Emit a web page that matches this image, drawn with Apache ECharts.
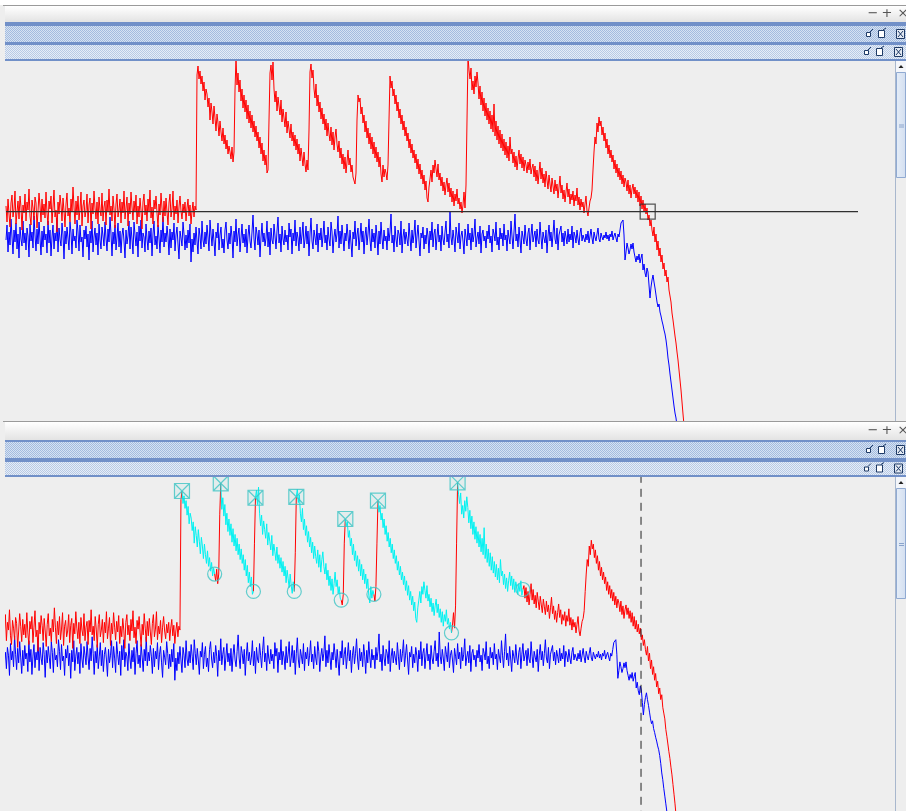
<!DOCTYPE html>
<html><head><meta charset="utf-8">
<script src="https://cdn.jsdelivr.net/npm/echarts@6/dist/echarts.min.js"></script>
<style>html,body{margin:0;padding:0;background:#eeeeee;}#c{width:906px;height:811px;}</style>
</head><body><div id="c"></div>
<script>
// ---- data: one sample per time unit ----
const sampleStep = 1;
const redSignal = [
214,198,221,206,193,217,225,203,211,229,196,208,219,201,224,213,190,215,207,226,
199,218,210,231,204,195,220,212,200,223,217,192,209,227,214,198,221,205,216,202,
228,207,195,219,211,224,197,213,230,203,210,188,218,206,225,215,199,222,209,193,
216,227,204,212,198,221,208,233,213,196,219,205,224,200,211,228,194,214,220,203,
209,226,197,215,222,191,217,206,229,212,201,218,196,223,210,204,227,199,213,219,
195,220,208,231,205,214,199,224,211,192,216,226,203,210,221,197,218,207,229,201,
212,223,194,217,206,228,213,200,219,208,225,196,214,203,222,210,191,218,226,205,
215,199,221,209,230,202,213,196,220,211,224,207,193,216,205,227,212,198,219,204,
222,208,195,217,226,203,211,229,200,214,206,220,197,213,224,209,201,216,207,218,
199,212,221,204,215,196,209,218,203,214,210,
345,
354,341,349,336,344,329,338,320,331,326,313,322,300,317,308,296,314,302,289,306,
297,284,299,288,279,292,276,285,271,280,266,274,268,
261,273,258,268,330,
362,335,347,328,340,319,331,312,325,308,320,301,315,297,309,292,305,288,299,283,
294,279,288,272,283,266,277,259,270,255,265,247,250,
300,
347,355,340,358,331,318,329,309,323,314,305,320,298,311,302,293,308,287,299,291,
282,296,279,288,274,285,270,281,266,276,259,272,263,254,268,256,248,260,250,
290,
348,356,342,350,331,322,336,314,325,308,318,301,312,296,306,290,301,284,297,286,
279,293,275,288,270,283,291,276,268,279,262,272,256,266,251,263,247,258,270,255,
262,248,255,243,241,
236,247,300,
325,318,322,306,313,297,305,288,299,282,292,276,287,271,283,266,278,262,273,258,
268,253,263,246,238,255,243,251,247,
240,255,300,
344,332,339,324,331,316,325,309,318,302,311,296,305,290,299,284,293,279,287,272,
281,267,276,262,270,257,266,251,261,246,256,241,250,236,245,230,239,222,218,233,
241,250,238,255,247,260,251,243,256,240,247,234,243,229,238,225,235,242,228,237,
223,232,218,229,214,226,219,231,216,222,211,218,207,
215,228,212,235,300,
363,350,341,352,330,339,326,344,333,348,337,321,334,315,328,309,322,304,317,300,
312,296,309,291,305,288,316,284,299,280,294,276,290,272,286,269,281,265,278,262,
274,259,283,266,271,257,268,253,264,250,261,270,256,266,252,263,249,260,255,247,
258,250,261,246,252,
256,243,254,239,250,236,247,258,241,252,237,246,233,249,240,231,245,236,228,242,
234,226,240,229,236,222,233,244,227,235,221,230,218,228,237,223,231,216,226,220,
229,214,225,219,232,215,223,210,221,213,218,207,216,224,209,204,212,219,222,230,
250,268,283,276,297,288,303,294,299,285,293,279,287,272,281,266,275,262,270,258,
265,251,260,247,256,243,252,240,249,236,245,233,242,238,229,240,226,235,222,231,
236,226,233,222,230,218,228,214,224,211,220,208,216,206,212,200,205,194,200,190,
184,193,178,186,170,179,164,172,158,165,151,157,144,150,138,143,130,124,118,107,
100,92,84,77,68,60,50,40,30,18,6,-5,-18,-30
];
const blueSignal = [
180,195,168,188,175,201,183,166,190,178,197,171,186,162,193,181,174,199,177,187,
170,192,184,163,196,179,188,172,204,185,169,191,176,198,182,165,189,173,194,180,
186,167,199,177,190,164,183,195,171,187,179,202,168,192,181,174,197,185,161,189,
176,193,182,170,198,187,166,191,179,184,172,200,188,169,195,178,183,163,190,181,
194,173,186,160,189,177,199,168,183,192,175,187,165,196,180,171,193,184,174,198,
182,169,191,178,203,186,164,188,176,195,170,183,197,173,189,167,185,192,179,162,
190,176,184,199,171,193,181,166,198,185,174,188,163,194,179,200,172,187,183,168,
196,181,170,189,177,192,164,186,199,175,184,171,195,182,167,190,178,203,173,187,
178,194,183,165,191,172,188,180,197,169,185,193,176,161,189,182,174,198,186,170,
185,172,190,177,196,158,181,168,187,175,193,179,166,192,184,171,199,180,173,188,
176,195,183,169,200,186,174,191,179,164,188,182,197,170,185,193,172,181,167,190,
198,180,171,187,176,194,183,162,189,178,201,174,185,192,168,182,196,177,186,173,
191,167,184,195,179,172,188,205,181,170,193,186,175,190,163,183,197,178,187,174,
182,199,173,188,165,192,180,176,196,184,171,189,203,177,186,168,194,181,175,190,
178,185,170,197,183,191,166,187,179,200,174,188,182,169,193,176,185,198,172,181,
194,176,189,164,186,202,179,171,190,183,175,196,168,187,180,192,173,184,199,177,
185,170,193,181,174,198,188,167,183,191,178,186,204,172,189,176,195,182,169,187,
179,196,184,171,190,177,163,188,181,199,174,185,192,170,183,197,178,189,166,184,
193,175,186,201,180,169,191,178,187,172,195,183,165,189,176,198,182,171,190,179,
184,170,192,179,188,206,177,185,168,194,181,173,190,186,175,199,167,183,191,176,
188,181,174,197,183,169,190,177,186,200,172,184,195,179,164,187,182,193,171,185,
176,192,184,167,189,180,198,173,186,191,170,183,196,178,185,169,194,181,175,188,
199,178,186,172,208,183,175,190,181,168,193,185,177,197,171,184,189,179,166,191,
183,174,196,180,187,170,192,178,185,201,173,182,188,176,194,167,186,190,179,184,
172,189,181,195,177,184,168,191,186,179,198,175,183,170,192,181,187,174,196,180,
185,169,190,182,176,199,184,171,188,206,179,186,173,193,180,167,189,183,176,195,
181,174,187,192,170,185,196,178,184,189,173,191,180,176,198,183,171,188,182,177,
190,167,184,195,179,188,173,186,200,181,176,192,170,185,183,194,178,187,174,189,
183,176,191,178,186,180,194,172,188,184,177,190,181,175,187,192,179,185,183,178,
186,180,189,177,184,191,182,176,188,183,179,186,192,181,178,187,183,180,185,182,
188,181,185,179,186,183,189,180,184,187,182,178,186,183,190,197,
196,200,185,160,168,177,172,166,170,176,171,177,168,163,158,164,160,166,157,162,
166,150,156,147,143,152,148,135,122,133,140,145,138,132,125,118,113,116,108,104,
99,95,90,86,80,72,62,55,46,38,30,22,14,7,2,-6,-15,-30
];
// highlighted decay segments: [start sample, end sample]
const selectedSegments = [[192,224],[230,262],[264,302],[304,348],[352,380],[384,456],[462,526]];
const thresholdLevel = 208.3;
const thresholdEnd = 852;
const cursorTime = 641.7;

// ---- build ----
const toPts = arr => arr.map((v, i) => [i * sampleStep, v]);
const redPts = toPts(redSignal);
const bluePts = toPts(blueSignal);
const insideSeg = i => selectedSegments.some(([a, b]) => i > a && i < b);
const redLowerPts = redPts.map((p, i) => insideSeg(i) ? [p[0], '-'] : p);

function makePattern(bg, dot) {
  const c = document.createElement('canvas'); c.width = 2; c.height = 2;
  const g = c.getContext('2d');
  g.fillStyle = bg; g.fillRect(0, 0, 2, 2);
  g.fillStyle = dot; g.fillRect(0, 0, 1, 1); g.fillRect(1, 1, 1, 1);
  return c;
}
const pat1 = makePattern('#d6e2f2', '#a3bbdf');
const pat2 = makePattern('#e6edf7', '#b8cae5');
const W = 906;
const X0 = 5;
const ICON = '#1e3a66';

function icons(mid, x0) {
  return [
    {type:'rect', shape:{x:x0+0.5, y:mid-1.5, width:4, height:4}, style:{fill:'#ffffff', stroke:ICON, lineWidth:1}},
    {type:'line', shape:{x1:x0+4, y1:mid-2, x2:x0+7, y2:mid-5}, style:{stroke:ICON, lineWidth:1}},
    {type:'rect', shape:{x:x0+12.5, y:mid-3.5, width:6, height:7}, style:{fill:'#ffffff', stroke:ICON, lineWidth:1}},
    {type:'line', shape:{x1:x0+17, y1:mid-4, x2:x0+20, y2:mid-6}, style:{stroke:ICON, lineWidth:1}},
    {type:'rect', shape:{x:x0+30.5, y:mid-4.5, width:8, height:9}, style:{fill:'#e4eaf3', stroke:ICON, lineWidth:1}},
    {type:'line', shape:{x1:x0+32, y1:mid-3, x2:x0+37, y2:mid+3}, style:{stroke:ICON, lineWidth:1}},
    {type:'line', shape:{x1:x0+37, y1:mid-3, x2:x0+32, y2:mid+3}, style:{stroke:ICON, lineWidth:1}}
  ];
}

function chrome(p) {
  const els = [];
  els.push({type:'rect', shape:{x:X0-2, y:p.lineY, width:W, height:1}, style:{fill:'#9a9a9a'}});
  els.push({type:'rect', shape:{x:X0, y:p.title[0], width:W, height:p.title[1]-p.title[0]},
    style:{fill:{type:'linear', x:0, y:0, x2:0, y2:1, colorStops:[{offset:0, color:'#ffffff'}, {offset:1, color:'#e3e3e3'}]}}});
  els.push({type:'rect', shape:{x:X0, y:p.title[1], width:W, height:p.plotTop-p.title[1]}, style:{fill:'#7190c8'}});
  els.push({type:'rect', shape:{x:X0, y:p.bar1[0], width:W, height:p.bar1[1]-p.bar1[0]}, style:{fill:{image:pat1, repeat:'repeat'}}});
  els.push({type:'rect', shape:{x:X0, y:p.bar2[0], width:W, height:p.bar2[1]-p.bar2[0]}, style:{fill:{image:pat2, repeat:'repeat'}}});
  const tm = (p.title[0]+p.title[1])/2;
  [['\u2212', 873], ['+', 887], ['\u00d7', 903]].forEach(([t, x]) => {
    els.push({type:'text', x:x, y:tm, style:{text:t, fill:'#555555', font:'13px "DejaVu Sans"', align:'center', verticalAlign:'middle'}});
  });
  icons((p.bar1[0]+p.bar1[1])/2, 866).forEach(e => els.push(e));
  icons((p.bar2[0]+p.bar2[1])/2, 864).forEach(e => els.push(e));
  // scrollbar
  els.push({type:'rect', shape:{x:895, y:p.plotTop, width:11, height:p.plotBottom-p.plotTop}, style:{fill:'#eeeeee'}});
  els.push({type:'rect', shape:{x:895, y:p.plotTop, width:1, height:p.plotBottom-p.plotTop}, style:{fill:'#a8b7cd'}});
  els.push({type:'rect', shape:{x:896, y:p.plotTop, width:10, height:11}, style:{fill:'#f4f6fa'}});
  els.push({type:'polygon', shape:{points:[[898.5, p.plotTop+7], [903.5, p.plotTop+7], [901, p.plotTop+4]]}, style:{fill:'#222222'}});
  els.push({type:'rect', shape:{x:896.5, y:p.thumb[0]+0.5, width:9, height:p.thumb[1]-p.thumb[0]},
    style:{fill:{type:'linear', x:0, y:0, x2:1, y2:0, colorStops:[{offset:0, color:'#e6eef8'}, {offset:1, color:'#d2def0'}]}, stroke:'#90aad2', lineWidth:1}});
  const gm = (p.thumb[0]+p.thumb[1])/2;
  els.push({type:'rect', shape:{x:899, y:gm, width:5, height:1}, style:{fill:'#8aa4cc'}});
  els.push({type:'rect', shape:{x:899, y:gm+2, width:5, height:1}, style:{fill:'#8aa4cc'}});
  return els;
}

const graphics = [].concat(
  [{type:'rect', shape:{x:0, y:0, width:W, height:5}, style:{fill:'#ffffff'}}],
  chrome({lineY:5, title:[6,22], bar1:[26,42], bar2:[45,59], plotTop:61, plotBottom:421, thumb:[72,177]}),
  chrome({lineY:421, title:[422,440], bar1:[442,458], bar2:[462,475], plotTop:477, plotBottom:811, thumb:[488,598]})
).map(e => Object.assign({z:100, silent:true}, e));

const SQX = 'path://M0 0H10V10H0Z M0 0L10 10 M10 0L0 10';
const cyanSeries = selectedSegments.map(([a, b]) => ({
  type:'line', xAxisIndex:1, yAxisIndex:1, data:redPts.slice(a, b+1), showSymbol:false,
  lineStyle:{color:'#00f2f2', width:1}, silent:true, z:4
}));

const option = {
  animation:false,
  backgroundColor:'#eeeeee',
  grid:[
    {left:6, top:61, width:889, height:360},
    {left:6, top:477, width:889, height:334}
  ],
  xAxis:[
    {type:'value', gridIndex:0, min:0, max:889, show:false},
    {type:'value', gridIndex:1, min:19.6, max:890.5, show:false}
  ],
  yAxis:[
    {type:'value', gridIndex:0, min:-1, max:359, show:false},
    {type:'value', gridIndex:1, min:22.6, max:368.5, show:false}
  ],
  graphic:{elements:graphics},
  series:[
    {type:'line', xAxisIndex:0, yAxisIndex:0, data:bluePts, showSymbol:false, lineStyle:{color:'#0000ff', width:1}, silent:true, z:2},
    {type:'line', xAxisIndex:0, yAxisIndex:0, data:redPts, showSymbol:false, lineStyle:{color:'#ff0000', width:1}, silent:true, z:3},
    {type:'line', xAxisIndex:0, yAxisIndex:0, data:[[0, thresholdLevel], [thresholdEnd, thresholdLevel]], showSymbol:false,
      lineStyle:{color:'#303030', width:1.2}, silent:true, z:5},
    {type:'scatter', xAxisIndex:0, yAxisIndex:0, data:[[cursorTime, thresholdLevel]], symbol:'rect', symbolSize:15,
      itemStyle:{color:'rgba(0,0,0,0)', borderColor:'#303030', borderWidth:1.3}, silent:true, z:6},
    {type:'line', xAxisIndex:1, yAxisIndex:1, data:bluePts, showSymbol:false, lineStyle:{color:'#0000ff', width:1}, silent:true, z:2},
    {type:'line', xAxisIndex:1, yAxisIndex:1, data:redLowerPts, showSymbol:false, connectNulls:false, lineStyle:{color:'#ff0000', width:1}, silent:true, z:3},
    ...cyanSeries,
    {type:'scatter', xAxisIndex:1, yAxisIndex:1, data:selectedSegments.map(([a]) => redPts[a]), symbol:SQX, symbolSize:15,
      itemStyle:{color:'rgba(60,200,200,0.08)', borderColor:'#3cc4c4', borderWidth:1.2}, silent:true, z:6},
    {type:'scatter', xAxisIndex:1, yAxisIndex:1, data:selectedSegments.map(([, b]) => redPts[b]), symbol:'circle', symbolSize:14,
      itemStyle:{color:'rgba(0,0,0,0)', borderColor:'#3cc4c4', borderWidth:1.2}, silent:true, z:6},
    {type:'line', xAxisIndex:1, yAxisIndex:1, data:[[cursorTime, 0], [cursorTime, 400]], showSymbol:false,
      lineStyle:{color:'#222222', width:1, type:[8,6]}, silent:true, z:5}
  ]
};
echarts.init(document.getElementById('c'), null, {renderer:'canvas'}).setOption(option);
</script>
</body></html>
